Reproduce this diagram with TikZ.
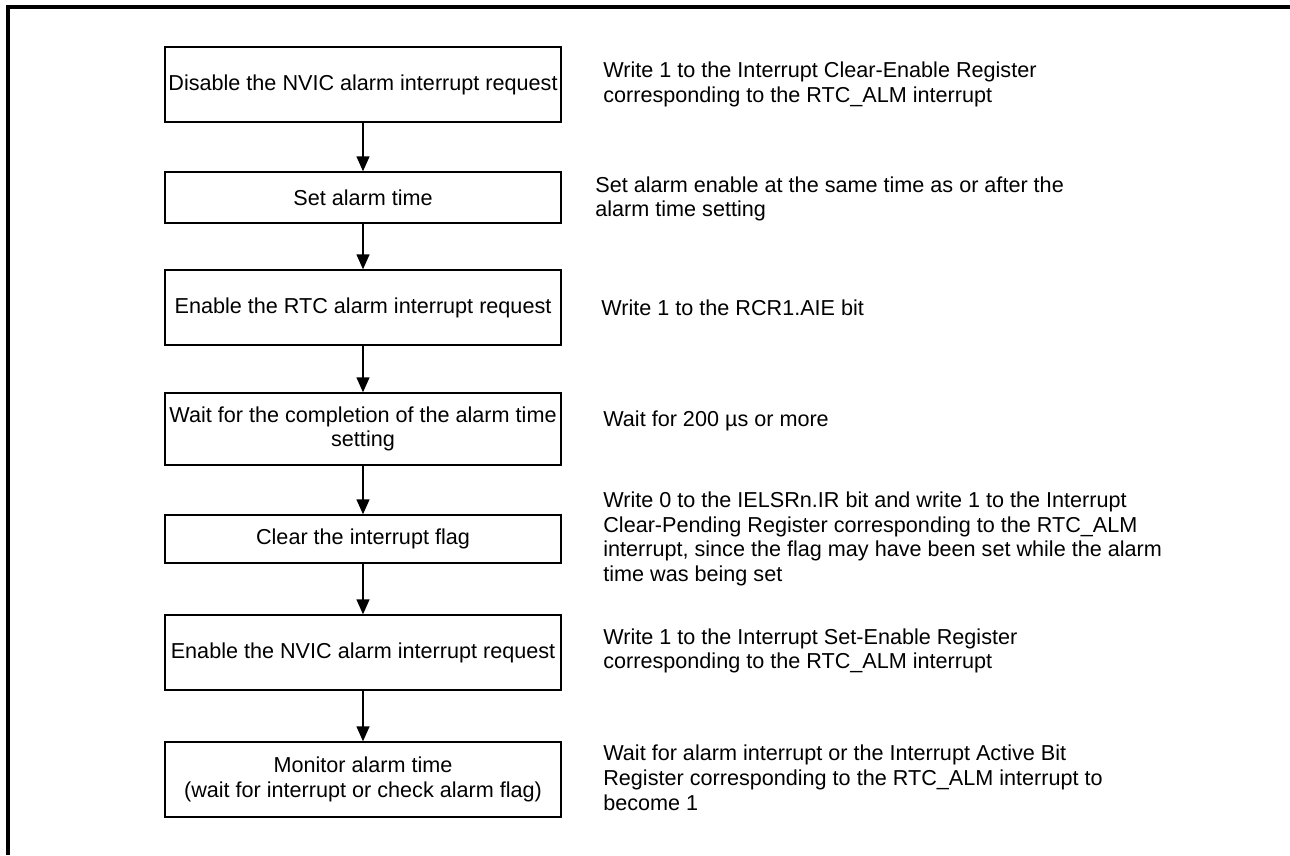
\documentclass[tikz,border=0pt]{standalone}
\usepackage{fontspec}
\setmainfont{Liberation Sans}
\usetikzlibrary{arrows.meta, positioning}

\newcommand\notefont{\fontsize{12.3}{14.1}\selectfont\lineskiplimit=-20pt\relax}

\begin{document}
\begin{tikzpicture}[
    x=0.02cm, y=-0.02cm,
    font=\notefont,
    stepbox/.style={rectangle, draw=black, line width=0.8pt, minimum width=7.92cm, text centered, align=center, inner sep=2pt},
    note/.style={anchor=west, align=left, inner sep=0pt},
    flow/.style={-{Triangle[length=0.3cm, width=0.26cm]}, line width=0.8pt}
]
    \useasboundingbox (0,0) rectangle (1290,855);

    % frame
    \draw[line width=1.8pt] (8,855) -- (8,7) -- (1290,7);

    % Flow steps
    \node[stepbox, minimum height=1.5cm] (disable) at (363,84.5) {Disable the NVIC alarm interrupt request};
    \node[stepbox, minimum height=1.02cm] (settime) at (363,197.5) {Set alarm time};
    \node[stepbox, minimum height=1.5cm] (rtcen) at (363,307.5) {Enable the RTC alarm interrupt request};
    \node[stepbox, minimum height=1.44cm] (waitset) at (363,429) {Wait for the completion of the alarm time\\setting};
    \node[stepbox, minimum height=0.96cm] (clrflag) at (363,539) {Clear the interrupt flag};
    \node[stepbox, minimum height=1.5cm] (nvicen) at (363,652.5) {Enable the NVIC alarm interrupt request};
    \node[stepbox, minimum height=1.5cm] (monitor) at (363,779.5) {Monitor alarm time\\(wait for interrupt or check alarm flag)};

    \draw[flow] (disable) -- (settime);
    \draw[flow] (settime) -- (rtcen);
    \draw[flow] (rtcen) -- (waitset);
    \draw[flow] (waitset) -- (clrflag);
    \draw[flow] (clrflag) -- (nvicen);
    \draw[flow] (nvicen) -- (monitor);

    % Notes
    \node[note] (disablenote) at (603,84.5) {Write 1 to the Interrupt Clear-Enable Register\\corresponding to the RTC\_ALM interrupt};
    \node[note] (settimenote) at (595,199) {Set alarm enable at the same time as or after the\\alarm time setting};
    \node[note] (rtcennote) at (601,308) {Write 1 to the RCR1.AIE bit};
    \node[note] (waitsetnote) at (603,421) {Wait for 200 µs or more};
    \node[note] (clrflagnote) at (603,539) {Write 0 to the IELSRn.IR bit and write 1 to the Interrupt\\Clear-Pending Register corresponding to the RTC\_ALM\\interrupt, since the flag may have been set while the alarm\\time was being set};
    \node[note] (nvicennote) at (603,651) {Write 1 to the Interrupt Set-Enable Register\\corresponding to the RTC\_ALM interrupt};
    \node[note] (monitornote) at (603,778) {Wait for alarm interrupt or the Interrupt Active Bit\\Register corresponding to the RTC\_ALM interrupt to\\become 1};

\end{tikzpicture}
\end{document}
